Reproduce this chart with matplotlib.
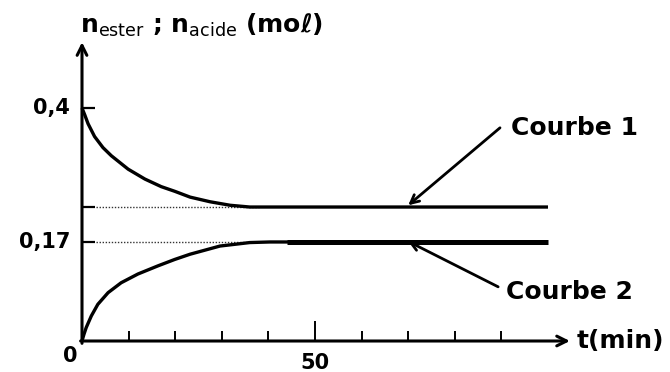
"""Evolution of n(ester) and n(acide) over time for an esterification."""
import matplotlib.pyplot as plt

# courbe 1 : acide, from 0.4 mol down to its limit
t_courbe1 = [0, 0.6, 1.3, 2.7, 4.5, 6.3, 9.9, 13.5, 17.0, 19.9, 23.2, 27.5, 31.8, 36.0, 100]
n_courbe1 = [0.40, 0.388, 0.373, 0.351, 0.332, 0.318, 0.295, 0.278, 0.265, 0.257,
             0.247, 0.239, 0.233, 0.230, 0.230]

# courbe 2 : ester, from 0 up to 0.17 mol
t_courbe2 = [0, 0.4, 0.9, 2.0, 3.4, 5.6, 8.4, 12.0, 16.3, 19.9, 23.2, 29.6, 36.0, 40.3, 100]
n_courbe2 = [0.0, 0.011, 0.023, 0.043, 0.063, 0.083, 0.100, 0.115, 0.129, 0.140,
             0.149, 0.163, 0.169, 0.170, 0.170]

n_limits = [0.23, 0.17]
y_ticks = [0.4, 0.23, 0.17]
y_ticklabels = ['0,4', '', '0,17']
x_ticks = [10, 20, 30, 40, 50, 60, 70, 80, 90]
x_major = 50

PX_T = 4.66     # pixels per minute
PX_N = 582.5    # pixels per mol

fig = plt.figure(figsize=(6.7, 3.72), dpi=100)
ax = fig.add_axes([0, 0, 1, 1])
ax.set_xlim(-82 / PX_T, 588 / PX_T)
ax.set_ylim(-31 / PX_N, 341 / PX_N)
ax.axis('off')

font = dict(family='DejaVu Sans', fontweight='bold', color='black')

# axes drawn as arrows
axis_arrow = dict(arrowstyle='->,head_length=0.7,head_width=0.35', lw=2.2,
                  color='black', shrinkA=0, shrinkB=0)
ax.annotate('', xy=(0, 0.513), xytext=(0, -0.004), arrowprops=axis_arrow)
ax.annotate('', xy=(104.7, 0), xytext=(-0.3, 0), arrowprops=axis_arrow)

# tick marks
for t in x_ticks:
    h = 20 / PX_N if t == x_major else 10 / PX_N
    ax.plot([t, t], [0, h], color='black', lw=1.4, solid_capstyle='butt')
for n in y_ticks:
    ax.plot([0, 13 / PX_T], [n, n], color='black', lw=1.6, solid_capstyle='butt')
for n, lab in zip(y_ticks, y_ticklabels):
    ax.text(-2.6, n, lab, ha='right', va='center', fontsize=15, **font)
ax.text(-2.6, -0.026, '0', ha='center', va='center', fontsize=15, **font)
ax.text(x_major, -0.021, '50', ha='center', va='top', fontsize=15, **font)

# dotted guides to the limits
for n in n_limits:
    ax.plot([3, 38], [n, n], color='0.2', lw=1.0, linestyle=(0, (1, 1.2)))

# curves
line_kw = dict(color='black', lw=2.4, solid_capstyle='butt', solid_joinstyle='round')
ax.plot(t_courbe1, n_courbe1, **line_kw)
ax.plot(t_courbe2, n_courbe2, **line_kw)
ax.plot([44, t_courbe2[-1]], [n_courbe2[-1], n_courbe2[-1]], color='black',
        lw=3.6, solid_capstyle='butt')

# axis titles
ax.text(-0.4, 0.518, 'n$_{\\mathrm{ester}}$ ; n$_{\\mathrm{acide}}$ (moℓ)',
        ha='left', va='bottom', fontsize=18, **font)
ax.text(106.2, 0, 't(min)', ha='left', va='center', fontsize=18, **font)

# curve labels
label_arrow = dict(arrowstyle='->,head_length=0.6,head_width=0.3', lw=2.0,
                   color='black', shrinkA=0, shrinkB=0)
ax.annotate('', xy=(70, n_courbe1[-1] + 0.003), xytext=(89.7, 0.366),
            arrowprops=label_arrow)
ax.annotate('', xy=(70, n_courbe2[-1] + 0.001), xytext=(89.3, 0.093),
            arrowprops=label_arrow)
ax.text(92.1, 0.366, 'Courbe 1', ha='left', va='center', fontsize=18, **font)
ax.text(90.9, 0.084, 'Courbe 2', ha='left', va='center', fontsize=18, **font)

plt.savefig('out.png', dpi=100)
